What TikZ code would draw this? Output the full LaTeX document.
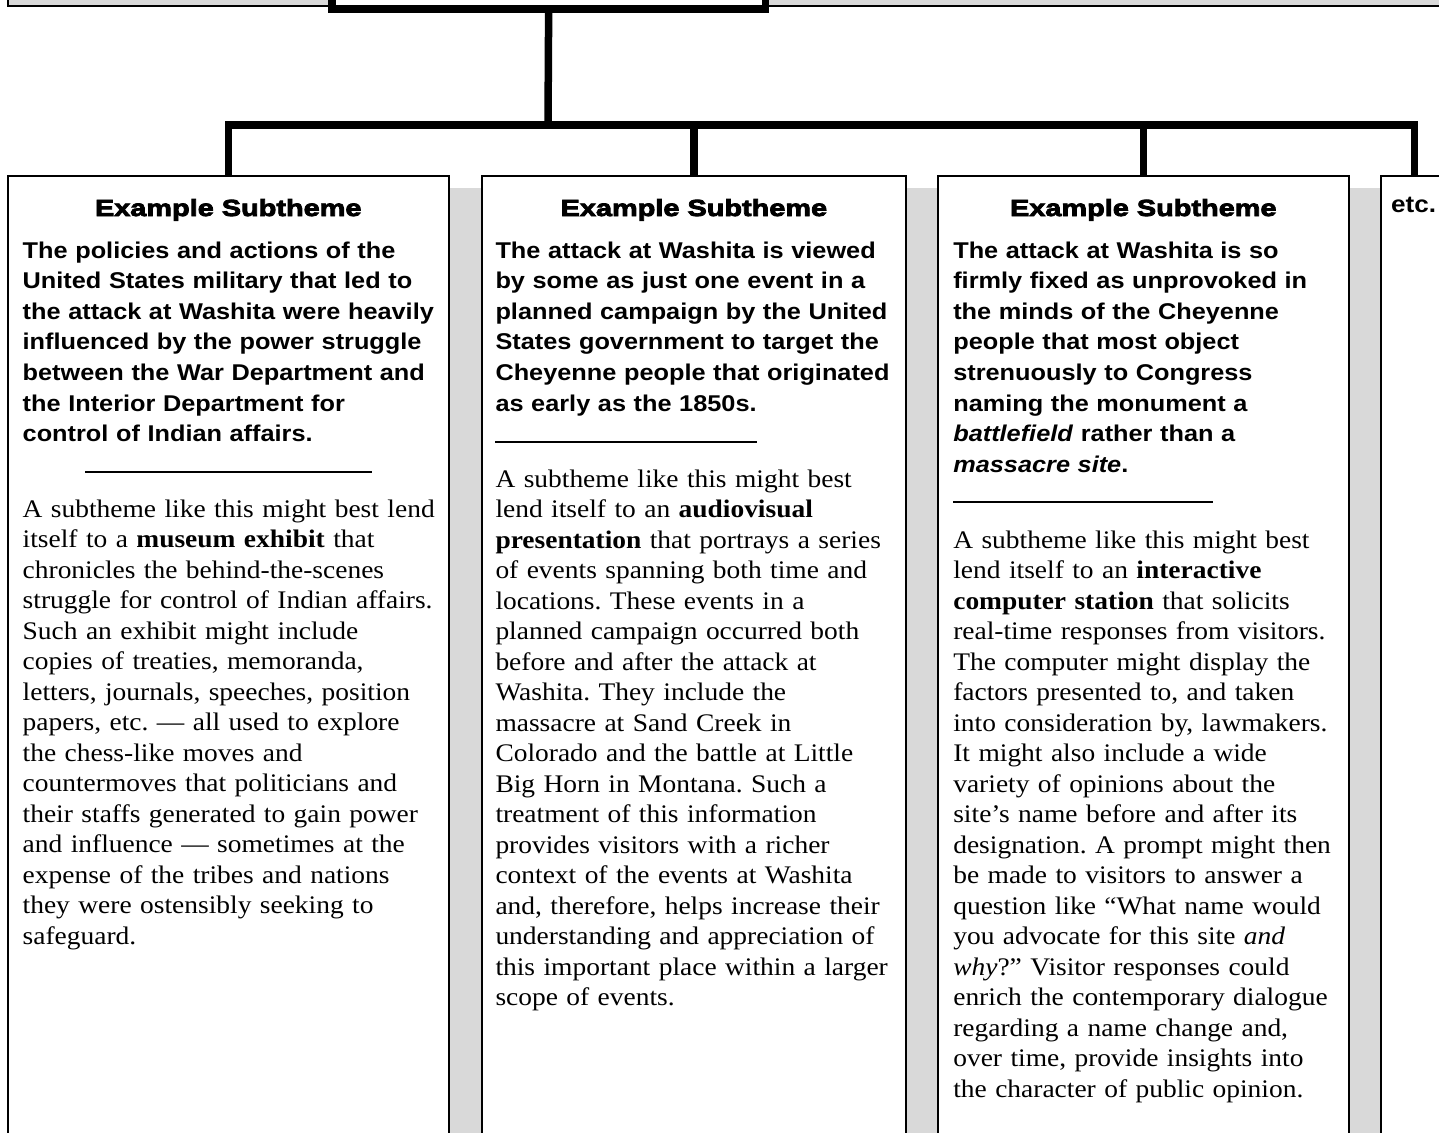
\documentclass[tikz,border=0pt]{standalone}
\usepackage{fontspec}
\setmainfont{Liberation Serif}[FakeStretch=1.085]
\setsansfont{Liberation Sans}[FakeStretch=1.11]
\newfontfamily\headfont{Liberation Sans Bold}[FakeStretch=1.24,FakeBold=3.5]
\usetikzlibrary{shadows}
\definecolor{shadegray}{HTML}{D9D9D9}
\frenchspacing
\tikzset{
  conn/.style={line width=7.5pt},
  subbox/.style={draw, line width=2pt, fill=white, rectangle, inner sep=0pt, outer sep=0pt,
    anchor=north west, minimum height=990pt,
    drop shadow={shadow xshift=32pt, shadow yshift=-12.6pt, fill=shadegray, opacity=1}},
  headtxt/.style={anchor=base, inner sep=0pt, font=\headfont\fontsize{23.3}{28}\selectfont},
  boldtxt/.style={anchor=base west, inner sep=0pt, outer sep=0pt, text width=430pt, align=left,
    font=\frenchspacing\sffamily\bfseries\fontsize{22.8}{30.6}\selectfont},
  bodytxt/.style={anchor=base west, inner sep=0pt, outer sep=0pt, text width=430pt, align=left,
    font=\frenchspacing\fontsize{25.3}{30.5}\selectfont},
  rulestyle/.style={line width=1.7pt}
}
\begin{document}
\begin{tikzpicture}[x=1pt,y=-1pt]
\useasboundingbox (0,0) rectangle (1439,1132);
% top band and main box
\draw[fill=shadegray, line width=1.7pt] (8,-30) rectangle (1470,6);
\node[draw, fill=white, line width=7.5pt, rectangle, inner sep=0pt, outer sep=0pt,
  anchor=south west, minimum width=433.3pt, minimum height=40pt] (main) at (332,8.8) {};
% sub boxes
\node[subbox, minimum width=441.5pt] (box1) at (7.5,175.7) {};
\node[subbox, minimum width=423.7pt] (box2) at (482,175.7) {};
\node[subbox, minimum width=411.5pt] (box3) at (937.5,175.7) {};
\node[subbox, minimum width=68pt] (box4) at (1380.5,175.7) {};
% connectors
\coordinate (junc) at (548,125);
\draw[conn] (main.south) -- (junc);
\draw[conn] (box1.north) |- (junc) -| (box4.north);
\draw[conn] (box2.north) -- (box2.north |- junc);
\draw[conn] (box3.north) -- (box3.north |- junc);
% headings
\node[headtxt] (h1) at (228.25,216) {Example Subtheme};
\node[headtxt] (h2) at (693.9,216) {Example Subtheme};
\node[headtxt] (h3) at (1143.3,216) {Example Subtheme};
\node[anchor=base west, inner sep=0pt, font=\sffamily\bfseries\fontsize{23.5}{28}\selectfont] (h4) at (1391,212.3) {etc.};
% box 1 text
\node[boldtxt] (b1) at (22.7,258) {The policies and actions of the\\
United States military that led to\\
the attack at Washita were heavily\\
influenced by the power struggle\\
between the War Department and\\
the Interior Department for\\
control of Indian affairs.};
\draw[rulestyle] (85,472.3) -- (372,472.3);
\node[bodytxt] (t1) at (22.7,517.3) {A subtheme like this might best lend\\
itself to a \textbf{museum exhibit} that\\
chronicles the behind-the-scenes\\
struggle for control of Indian affairs.\\
Such an exhibit might include\\
copies of treaties, memoranda,\\
letters, journals, speeches, position\\
papers, etc. — all used to explore\\
the chess-like moves and\\
countermoves that politicians and\\
their staffs generated to gain power\\
and influence — sometimes at the\\
expense of the tribes and nations\\
they were ostensibly seeking to\\
safeguard.};
% box 2 text
\node[boldtxt] (b2) at (495.5,258) {The attack at Washita is viewed\\
by some as just one event in a\\
planned campaign by the United\\
States government to target the\\
Cheyenne people that originated\\
as early as the 1850s.};
\draw[rulestyle] (495,442.3) -- (757,442.3);
\node[bodytxt] (t2) at (495.5,487.3) {A subtheme like this might best\\
lend itself to an \textbf{audiovisual}\\
\textbf{presentation} that portrays a series\\
of events spanning both time and\\
locations. These events in a\\
planned campaign occurred both\\
before and after the attack at\\
Washita. They include the\\
massacre at Sand Creek in\\
Colorado and the battle at Little\\
Big Horn in Montana. Such a\\
treatment of this information\\
provides visitors with a richer\\
context of the events at Washita\\
and, therefore, helps increase their\\
understanding and appreciation of\\
this important place within a larger\\
scope of events.};
% box 3 text
\node[boldtxt] (b3) at (953.3,258) {The attack at Washita is so\\
firmly fixed as unprovoked in\\
the minds of the Cheyenne\\
people that most object\\
strenuously to Congress\\
naming the monument a\\
\textit{battlefield} rather than a\\
\textit{massacre site}.};
\draw[rulestyle] (953,501.7) -- (1213,501.7);
\node[bodytxt] (t3) at (953.3,548) {A subtheme like this might best\\
lend itself to an \textbf{interactive}\\
\textbf{computer station} that solicits\\
real-time responses from visitors.\\
The computer might display the\\
factors presented to, and taken\\
into consideration by, lawmakers.\\
It might also include a wide\\
variety of opinions about the\\
site’s name before and after its\\
designation. A prompt might then\\
be made to visitors to answer a\\
question like “What name would\\
you advocate for this site \textit{and}\\
\textit{why}?” Visitor responses could\\
enrich the contemporary dialogue\\
regarding a name change and,\\
over time, provide insights into\\
the character of public opinion.};
\end{tikzpicture}
\end{document}
